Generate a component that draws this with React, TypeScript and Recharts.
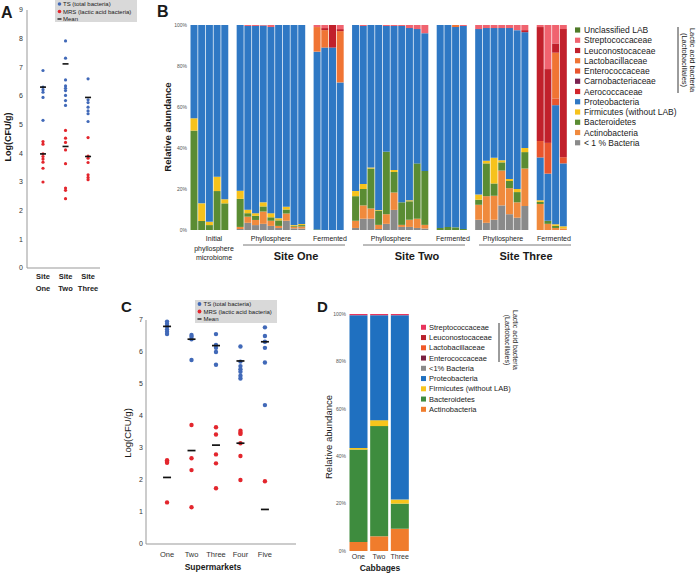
import React from 'react';
import { ScatterChart, Scatter, XAxis, YAxis, BarChart, Bar } from 'recharts';

const FONT = '"Liberation Sans", Arial, sans-serif';
const TS_COLOR = '#4169b8';
const MRS_COLOR = '#e3262d';

// ---- Panel A: plate counts per site ----
const siteNames = [['Site', 'One'], ['Site', 'Two'], ['Site', 'Three']];
const siteTS = [
  [6.89, 6.31, 6.22, 6.13, 5.95, 5.15],
  [7.92, 7.32, 6.56, 6.35, 6.27, 6.19, 6.02, 5.84, 5.67],
  [6.6, 5.87, 5.77, 5.61, 5.48, 5.38, 5.11],
];
const siteMRS = [
  [4.41, 4.32, 3.98, 3.89, 3.8, 3.69, 3.48, 3.0],
  [4.8, 4.53, 4.38, 4.12, 3.64, 2.79, 2.71, 2.42],
  [4.55, 3.9, 3.83, 3.68, 3.25, 3.16, 3.08],
];
const siteTSMean = [6.31, 7.12, 5.95];
const siteMRSMean = [3.98, 4.24, 3.89];
const siteYTicks = [0, 1, 2, 3, 4, 5, 6, 7, 8, 9];

// ---- Panel C: plate counts per supermarket ----
const marketNames = ['One', 'Two', 'Three', 'Four', 'Five'];
const marketTS = [
  [6.95, 6.88, 6.8, 6.7, 6.63, 6.56],
  [6.53, 6.48, 6.4, 5.75],
  [6.56, 6.22, 6.13, 6.0, 5.6],
  [6.17, 5.7, 5.56, 5.46, 5.38, 5.26, 5.17],
  [6.77, 6.5, 6.32, 6.13, 5.67, 4.34],
];
const marketMRS = [
  [2.62, 2.57, 2.54, 1.3],
  [3.72, 2.68, 2.31, 1.15],
  [3.65, 3.42, 2.8, 2.52, 1.74],
  [3.54, 3.48, 3.44, 3.15, 2.75, 2.0],
  [1.96],
];
const marketTSMean = [6.8, 6.4, 6.2, 5.72, 6.32];
const marketMRSMean = [2.08, 2.92, 3.09, 3.15, 1.08];
const marketYTicks = [0, 1, 2, 3, 4, 5, 6, 7];

// ---- Panel B: relative abundance per sample (%), 43 samples ----
const groupSizes = [5, 9, 4, 10, 4, 7, 4];
const lowAbundance = [
  0, 0, 0, 0, 0,
  0.5, 3.5, 2.4, 3, 2, 1, 4.5, 0.8, 0.7,
  0, 0, 0, 0,
  1, 5.5, 5.5, 0.5, 3, 9.8, 1.5, 1.5, 1, 0.7,
  0, 0, 0, 0,
  5, 3.5, 5, 12, 7.7, 6, 11.7,
  0, 0, 0, 0,
];
const actinobacteria = [
  0, 0, 0, 0, 0,
  1, 3, 2.5, 6, 2.5, 1, 3.5, 0.8, 1,
  0, 0, 0, 0,
  3.5, 6.5, 5, 2, 4.7, 8.5, 1, 3.5, 4.5, 1.8,
  0, 0, 0, 0,
  7.3, 13, 11.7, 17, 12.7, 7.5, 18.3,
  12.7, 3, 1, 0.8,
];
const bacteroidetes = [
  48.5, 4.4, 2.4, 19, 13,
  13.7, 1.7, 2, 2.5, 1.7, 2.7, 2, 0.5, 0.7,
  0.3, 0, 0, 0,
  12, 8, 19.5, 7, 30.5, 10, 11, 9, 27, 26.3,
  1, 1.5, 1.3, 0.5,
  2.5, 16, 6, 4, 3.5, 5, 8,
  1, 1.5, 1, 0,
];
const firmicutes = [
  6, 8.6, 1.6, 7, 2,
  4, 1.7, 1.3, 2, 2, 1, 1.3, 0.4, 0.5,
  0, 0, 0, 0,
  2.5, 2.5, 0.5, 0.3, 0, 1, 0, 0.5, 0, 0,
  0, 0, 0, 0,
  2.5, 1.3, 12.5, 1, 1, 1.5, 2,
  0.8, 0, 0.8, 1,
];
const proteobacteria = [
  45.5, 87, 96, 74, 85,
  80.8, 89.6, 91.3, 86.2, 90.8, 94.3, 88.7, 97.5, 97.1,
  86.7, 89, 89, 72,
  81, 77, 69.5, 90.2, 61.3, 70.2, 86, 84, 65.5, 67.2,
  99, 98.5, 97.7, 99,
  80.7, 64.7, 63.3, 64.5, 73.6, 77.5, 56.5,
  20.9, 23, 58.1, 30.7,
];
const enterococcaceae = [
  0, 0, 0, 0, 0,
  0, 0, 0, 0, 0, 0, 0, 0, 0,
  0, 0, 0, 0,
  0, 0, 0, 0, 0, 0, 0, 0, 0, 0,
  0, 0, 0, 0,
  0, 0, 0, 0, 0, 0, 0,
  8, 15, 3.3, 3,
];
const lactobacillaceae = [
  0, 0, 0, 0, 0,
  0, 0, 0, 0, 0, 0, 0, 0, 0,
  12, 8.5, 0, 25,
  0, 0, 0, 0, 0, 0, 0, 0, 0, 0,
  0, 0, 1, 0,
  0, 0, 0, 0, 0, 0, 0,
  0, 0, 22.3, 0,
];
const leuconostocaceae = [
  0, 0, 0, 0, 0,
  0, 0, 0, 0, 0, 0, 0, 0, 0,
  0, 1, 11, 1,
  0, 0, 0, 0, 0, 0, 0, 0, 0, 0,
  0, 0, 0, 0,
  0, 0, 0, 0, 0, 0, 1,
  55.6, 36, 4.5, 62.5,
];
const streptococcaceae = [
  0, 0, 0, 0, 0,
  0, 0.5, 0.5, 0.3, 1, 0, 0, 0, 0,
  1, 1.5, 0, 2,
  0, 0.5, 0, 0, 0.5, 0.5, 0.5, 1.5, 2, 4,
  0, 0, 0, 0.5,
  2, 1.5, 1.5, 1.5, 1.5, 2.5, 2.5,
  1, 21.5, 9, 2,
];

const bSeries = [
  { key: 'low', name: '< 1 % Bacteria', color: '#8a8a8a', values: lowAbundance },
  { key: 'actino', name: 'Actinobacteria', color: '#f08a3d', values: actinobacteria },
  { key: 'bact', name: 'Bacteroidetes', color: '#5a8c33', values: bacteroidetes },
  { key: 'firm', name: 'Firmicutes (without LAB)', color: '#f6c21c', values: firmicutes },
  { key: 'proteo', name: 'Proteobacteria', color: '#2f78c4', values: proteobacteria },
  { key: 'entero', name: 'Enterococcaceae', color: '#e9552d', values: enterococcaceae },
  { key: 'lacto', name: 'Lactobacillaceae', color: '#f07434', values: lactobacillaceae },
  { key: 'leuco', name: 'Leuconostocaceae', color: '#c1202b', values: leuconostocaceae },
  { key: 'strep', name: 'Streptococcaceae', color: '#f0636f', values: streptococcaceae },
];
const bLegend = [
  ['Unclassified LAB', '#4f7a28'],
  ['Streptococcaceae', '#f0636f'],
  ['Leuconostocaceae', '#c1202b'],
  ['Lactobacillaceae', '#f07434'],
  ['Enterococcaceae', '#e9552d'],
  ['Carnobacteriaceae', '#7b2250'],
  ['Aerococcaceae', '#d2252b'],
  ['Proteobacteria', '#2f78c4'],
  ['Firmicutes (without LAB)', '#f6c21c'],
  ['Bacteroidetes', '#5a8c33'],
  ['Actinobacteria', '#f08a3d'],
  ['< 1 % Bacteria', '#8a8a8a'],
];

// ---- Panel D: cabbages ----
const cabbages = ['One', 'Two', 'Three'];
const dActino = [3.8, 6.2, 9.4];
const dBact = [39, 46.5, 10.6];
const dFirm = [0.7, 2.5, 1.7];
const dProteo = [56, 44.3, 77.8];
const dStrep = [0.5, 0.5, 0.5];
const dSeries = [
  { key: 'actino', color: '#f07c2c', values: dActino },
  { key: 'bact', color: '#3e8c3e', values: dBact },
  { key: 'firm', color: '#f7c51c', values: dFirm },
  { key: 'proteo', color: '#1f70c0', values: dProteo },
  { key: 'strep', color: '#e8365d', values: dStrep },
];
const dLegend = [
  ['Streptococcaceae', '#e8365d'],
  ['Leuconostocaceae', '#b8222c'],
  ['Lactobacillaceae', '#f05a2a'],
  ['Enterococcaceae', '#7a2040'],
  ['<1% Bacteria', '#8a8a8a'],
  ['Proteobacteria', '#1f70c0'],
  ['Firmicutes (without LAB)', '#f7c51c'],
  ['Bacteroidetes', '#3e8c3e'],
  ['Actinobacteria', '#f07c2c'],
];
const pctTicks = [0, 20, 40, 60, 80, 100];

const toPoints = (groups: number[][]) =>
  groups.flatMap((vals, i) => vals.map((y) => ({ x: i + 1, y })));
const meanPoints = (vals: number[]) => vals.map((y, i) => ({ x: i + 1, y }));

// stacked rows for B with an empty slot between sample groups
const bRows: any[] = [];
{
  let idx = 0;
  groupSizes.forEach((size, g) => {
    for (let k = 0; k < size; k++) {
      const row: any = { id: `s${idx}` };
      bSeries.forEach((s) => (row[s.key] = s.values[idx]));
      bRows.push(row);
      idx++;
    }
    if (g < groupSizes.length - 1) {
      const gap: any = { id: `gap${g}` };
      bSeries.forEach((s) => (gap[s.key] = 0));
      bRows.push(gap);
    }
  });
}
const dRows = cabbages.map((name, i) => {
  const row: any = { name };
  dSeries.forEach((s) => (row[s.key] = s.values[i]));
  return row;
});

const dot = (r: number, color: string) => (p: any) =>
  <circle cx={p.cx} cy={p.cy} r={r} fill={color} />;
const dash = (w: number, sw: number) => (p: any) =>
  <line x1={p.cx - w / 2} x2={p.cx + w / 2} y1={p.cy} y2={p.cy} stroke="#111" strokeWidth={sw} />;

const SiteTick = (props: any) => {
  const { x, y, payload } = props;
  const lines = siteNames[Math.round(payload.value) - 1] || ['', ''];
  return (
    <text x={x} y={y} textAnchor="middle" fontSize={7.5} fontWeight="bold" fill="#222" fontFamily={FONT}>
      <tspan x={x} dy="0.71em">{lines[0]}</tspan>
      <tspan x={x} dy="1.6em">{lines[1]}</tspan>
    </text>
  );
};

const tickStyle = { fontSize: 7, fill: '#333', fontFamily: FONT };
const tinyTick = { fontSize: 5, fill: '#555', fontFamily: FONT };

const T = ({ x, y, children, size = 7, bold = false, anchor = 'middle', rotate = 0 }: any) => (
  <text
    x={x}
    y={y}
    fontSize={size}
    fontWeight={bold ? 'bold' : 'normal'}
    textAnchor={anchor}
    dominantBaseline="central"
    fill="#1a1a1a"
    fontFamily={FONT}
    transform={rotate ? `rotate(${rotate} ${x} ${y})` : undefined}
  >
    {children}
  </text>
);

export default function App() {
  return (
    <div style={{ position: 'absolute', left: 0, top: 0, width: 696, height: 574, background: '#fff', overflow: 'hidden' }}>
      {/* A */}
      <div style={{ position: 'absolute', left: 0, top: 0 }}>
        <ScatterChart width={110} height={300} margin={{ top: 10, right: 10, bottom: 2, left: 0 }}>
          <XAxis type="number" dataKey="x" domain={[0.29, 3.53]} ticks={[1, 2, 3]} allowDataOverflow
            tick={<SiteTick />} tickLine={false} tickSize={0} tickMargin={6} axisLine={{ stroke: '#999' }} height={30} />
          <YAxis type="number" dataKey="y" domain={[0, 9]} ticks={siteYTicks} width={27}
            tick={tickStyle} tickLine={false} tickSize={2} tickMargin={2} axisLine={{ stroke: '#999' }} />
          <Scatter data={toPoints(siteTS)} shape={dot(1.6, TS_COLOR)} isAnimationActive={false} />
          <Scatter data={toPoints(siteMRS)} shape={dot(1.6, MRS_COLOR)} isAnimationActive={false} />
          <Scatter data={meanPoints(siteTSMean)} shape={dash(6, 1.6)} isAnimationActive={false} />
          <Scatter data={meanPoints(siteMRSMean)} shape={dash(6, 1.6)} isAnimationActive={false} />
        </ScatterChart>
      </div>

      {/* B */}
      <div style={{ position: 'absolute', left: 160, top: 0 }}>
        <BarChart width={420} height={260} data={bRows} margin={{ top: 25, right: 13, bottom: 30, left: 0 }} barCategoryGap={0.5}>
          <XAxis dataKey="id" hide />
          <YAxis domain={[0, 100]} ticks={pctTicks} width={30} tick={tinyTick} tickLine={false}
            axisLine={false} tickSize={1} tickMargin={2} tickFormatter={(v) => `${v}%`} />
          {bSeries.map((s) => (
            <Bar key={s.key} dataKey={s.key} stackId="a" fill={s.color} isAnimationActive={false} />
          ))}
        </BarChart>
      </div>

      {/* C */}
      <div style={{ position: 'absolute', left: 110, top: 300 }}>
        <ScatterChart width={195} height={260} margin={{ top: 20, right: 9, bottom: 2, left: 0 }}>
          <XAxis type="number" dataKey="x" domain={[0.14, 6.27]} ticks={[1, 2, 3, 4, 5]} allowDataOverflow
            tickFormatter={(v) => marketNames[Math.round(v) - 1] || ''} tick={{ ...tickStyle, fontSize: 7.5 }}
            tickLine={false} tickSize={5} tickMargin={3} axisLine={{ stroke: '#999' }} height={14} />
          <YAxis type="number" dataKey="y" domain={[0, 7]} ticks={marketYTicks} width={36}
            tick={tickStyle} tickLine={false} tickSize={1} tickMargin={2} axisLine={{ stroke: '#999' }} />
          <Scatter data={toPoints(marketTS)} shape={dot(2.2, TS_COLOR)} isAnimationActive={false} />
          <Scatter data={toPoints(marketMRS)} shape={dot(2.2, MRS_COLOR)} isAnimationActive={false} />
          <Scatter data={meanPoints(marketTSMean)} shape={dash(8, 1.7)} isAnimationActive={false} />
          <Scatter data={meanPoints(marketMRSMean)} shape={dash(8, 1.7)} isAnimationActive={false} />
        </ScatterChart>
      </div>

      {/* D */}
      <div style={{ position: 'absolute', left: 315, top: 300 }}>
        <BarChart width={100} height={265} data={dRows} margin={{ top: 14, right: 5, bottom: 0, left: 0 }} barCategoryGap={1.5}>
          <XAxis dataKey="name" tick={{ ...tickStyle, fontSize: 7 }} tickLine={false} axisLine={false}
            tickSize={2} tickMargin={1} height={14} interval={0} />
          <YAxis domain={[0, 100]} ticks={pctTicks} width={33} tick={tinyTick} tickLine={false}
            axisLine={false} tickSize={1} tickMargin={1} tickFormatter={(v) => `${v}%`} />
          {dSeries.map((s) => (
            <Bar key={s.key} dataKey={s.key} stackId="d" fill={s.color} isAnimationActive={false} />
          ))}
        </BarChart>
      </div>

      <svg width={696} height={574} style={{ position: 'absolute', left: 0, top: 0, pointerEvents: 'none' }}>
        {/* A decorations */}
        <T x={1} y={12} size={16} bold anchor="start">A</T>
        <rect x={55} y={0} width={82} height={22} fill="#d9d9d9" />
        <circle cx={59.5} cy={4} r={1.8} fill={TS_COLOR} />
        <T x={63} y={4} size={6} anchor="start">TS (total bacteria)</T>
        <circle cx={59.5} cy={11.5} r={1.8} fill={MRS_COLOR} />
        <T x={63} y={11.5} size={6} anchor="start">MRS (lactic acid bacteria)</T>
        <line x1={57.5} x2={61.5} y1={19} y2={19} stroke="#111" strokeWidth={1.3} />
        <T x={63} y={19} size={6} anchor="start">Mean</T>
        <T x={8} y={137} size={9} bold rotate={-90}>Log(CFU/g)</T>

        {/* B decorations */}
        <T x={157} y={11} size={16} bold anchor="start">B</T>
        <T x={167} y={127} size={9.5} bold rotate={-90}>Relative abundance</T>
        <T x={214} y={238}>Initial</T>
        <T x={214} y={248}>phyllosphere</T>
        <T x={214} y={257}>microbiome</T>
        <T x={271} y={238}>Phyllosphere</T>
        <T x={330} y={238}>Fermented</T>
        <line x1={243} x2={345} y1={245} y2={245} stroke="#555" strokeWidth={0.8} />
        <T x={296} y={256} size={11} bold>Site One</T>
        <T x={391} y={238}>Phyllosphere</T>
        <T x={453} y={238}>Fermented</T>
        <line x1={363} x2={465} y1={245} y2={245} stroke="#555" strokeWidth={0.8} />
        <T x={417} y={256} size={11} bold>Site Two</T>
        <T x={503} y={238}>Phyllosphere</T>
        <T x={554} y={238}>Fermented</T>
        <line x1={479} x2={571} y1={245} y2={245} stroke="#555" strokeWidth={0.8} />
        <T x={526} y={256} size={11} bold>Site Three</T>
        {bLegend.map(([name, color], i) => (
          <g key={name}>
            <rect x={575} y={30 + i * 10.25 - 2.6} width={5.2} height={5.2} fill={color} />
            <T x={584} y={30 + i * 10.25} size={8.5} anchor="start">{name}</T>
          </g>
        ))}
        <line x1={678} x2={678} y1={27} y2={93} stroke="#222" strokeWidth={0.9} />
        <T x={692} y={60} size={7.5} rotate={90}>Lactic acid bacteria</T>
        <T x={684} y={60} size={7.5} rotate={90}>(Lactobacillales)</T>

        {/* C decorations */}
        <T x={121} y={306} size={15} bold anchor="start">C</T>
        <rect x={195} y={300} width={82} height={23} fill="#d9d9d9" />
        <circle cx={199.5} cy={304} r={1.9} fill={TS_COLOR} />
        <T x={203.5} y={304} size={6} anchor="start">TS (total bacteria)</T>
        <circle cx={199.5} cy={311.5} r={1.9} fill={MRS_COLOR} />
        <T x={203.5} y={311.5} size={6} anchor="start">MRS (lactic acid bacteria)</T>
        <line x1={197.5} x2={201.5} y1={319} y2={319} stroke="#111" strokeWidth={1.3} />
        <T x={203.5} y={319} size={6} anchor="start">Mean</T>
        <T x={127} y={433} size={9.5} rotate={-90}>Log(CFU/g)</T>
        <T x={213} y={567} size={8.5} bold>Supermarkets</T>

        {/* D decorations */}
        <T x={317} y={306} size={15} bold anchor="start">D</T>
        <T x={328} y={437} size={9.5} rotate={-90}>Relative abundance</T>
        <T x={380} y={568} size={8.5} bold>Cabbages</T>
        {dLegend.map(([name, color], i) => (
          <g key={name}>
            <rect x={421} y={327.3 + i * 10.25 - 2.5} width={5} height={5} fill={color} />
            <T x={429} y={327.3 + i * 10.25} size={7.5} anchor="start">{name}</T>
          </g>
        ))}
        <line x1={499} x2={499} y1={323} y2={362} stroke="#222" strokeWidth={0.9} />
        <T x={515} y={340} size={7} rotate={90}>Lactic acid bacteria</T>
        <T x={507} y={340} size={7} rotate={90}>(Lactobacillales)</T>
      </svg>
    </div>
  );
}
